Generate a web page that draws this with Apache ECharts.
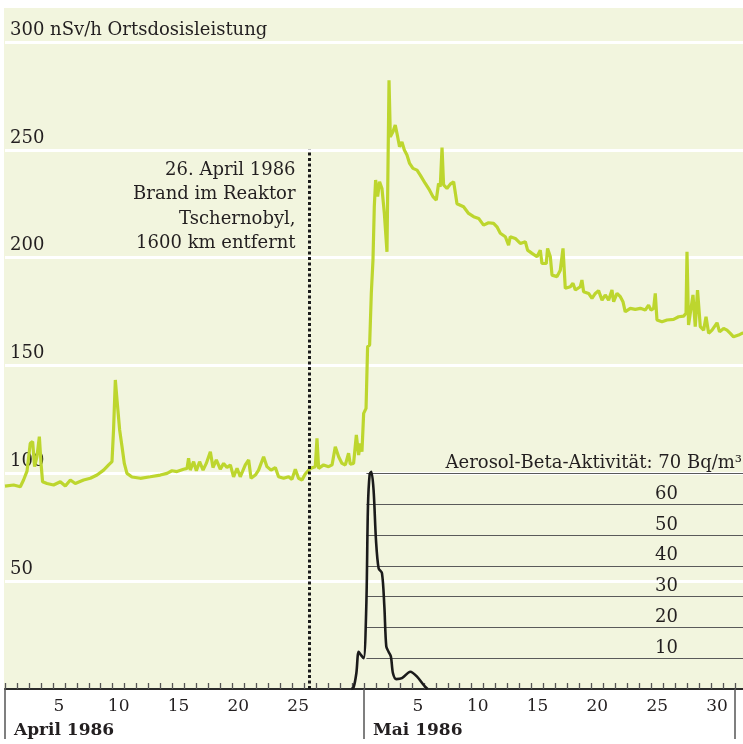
<!DOCTYPE html>
<html><head><meta charset="utf-8">
<script src="https://cdn.jsdelivr.net/npm/echarts@6/dist/echarts.min.js"></script>
<style>html,body{margin:0;padding:0;background:#fff}#c{width:743px;height:744px}</style>
</head><body><div id="c"></div>
<script>
// time in days since 1 April 1986 00:00, dose rate in nSv/h
const doseRate = [
 [0.00,94.1],[0.72,94.6],[1.28,93.8],[1.55,96.9],[1.84,101.0],[2.11,113.9],[2.31,114.7],[2.47,103.1],[2.67,107.7],[2.87,117.0],
 [3.01,104.6],[3.14,96.1],[3.51,95.3],[4.06,94.6],[4.62,96.1],[5.04,94.1],[5.46,96.9],[5.87,95.3],[6.57,96.9],[7.13,97.7],
 [7.69,99.2],[8.24,101.5],[8.66,103.9],[8.94,105.4],[9.07,120.1],[9.22,143.3],[9.36,134.0],[9.58,120.1],[9.78,112.3],[9.97,104.6],
 [10.19,100.0],[10.61,98.3],[11.31,97.7],[12.14,98.4],[12.98,99.2],[13.54,100.0],[13.95,101.2],[14.37,100.8],[14.92,101.9],[15.21,102.3],
 [15.34,107.0],[15.48,101.5],[15.76,105.4],[15.99,101.2],[16.26,105.4],[16.55,101.5],[16.82,104.6],[17.16,110.0],[17.38,102.7],[17.66,106.2],
 [17.99,101.9],[18.27,104.6],[18.55,102.7],[18.83,103.9],[19.10,98.4],[19.39,102.3],[19.66,98.4],[20.08,103.9],[20.36,106.2],[20.56,97.7],
 [20.92,99.2],[21.19,101.5],[21.61,107.7],[21.89,103.1],[22.23,101.5],[22.59,102.7],[22.86,98.4],[23.28,97.7],[23.70,98.4],[23.98,97.2],
 [24.26,101.9],[24.53,97.7],[24.82,96.9],[25.09,99.7],[25.51,102.3],[25.93,103.1],[26.07,116.2],[26.21,102.3],[26.62,103.9],[27.04,103.1],
 [27.33,103.9],[27.60,112.3],[27.88,107.7],[28.16,104.6],[28.44,103.9],[28.71,109.3],[28.85,104.3],[29.13,104.6],[29.36,117.8],[29.55,108.5],
 [29.69,113.9],[29.83,110.0],[29.97,127.8],[30.17,130.1],[30.30,158.7],[30.47,159.5],[30.61,183.4],[30.75,198.9],[30.86,223.6],[30.97,236.0],
 [31.14,228.3],[31.30,235.2],[31.50,232.1],[31.70,220.5],[31.92,202.7],[32.09,282.3],[32.20,256.1],[32.42,258.4],[32.61,261.5],[32.81,256.1],
 [32.97,251.4],[33.17,253.7],[33.37,249.9],[33.59,247.6],[33.81,243.7],[34.09,241.4],[34.43,240.6],[34.70,238.3],[35.12,234.4],[35.48,231.3],
 [35.76,228.3],[36.04,226.7],[36.23,234.4],[36.37,232.9],[36.52,251.1],[36.65,233.7],[36.93,232.1],[37.21,234.1],[37.49,235.2],[37.65,234.7],
 [37.77,225.0],[38.32,223.6],[38.74,220.5],[39.16,219.0],[39.58,218.2],[39.99,215.1],[40.41,216.2],[40.83,215.9],[41.11,214.3],[41.39,211.3],
 [41.81,209.7],[42.08,205.8],[42.22,209.7],[42.64,208.9],[43.06,206.6],[43.48,207.4],[43.67,203.5],[44.04,202.0],[44.46,200.4],[44.73,203.5],
 [44.87,197.3],[45.23,197.3],[45.34,204.3],[45.57,200.4],[45.71,191.9],[46.13,191.2],[46.40,194.2],[46.63,204.3],[46.82,185.8],[47.24,186.5],
 [47.46,188.1],[47.66,185.0],[48.07,186.5],[48.21,189.6],[48.35,184.2],[48.77,183.4],[49.05,181.1],[49.33,183.4],[49.60,184.7],[49.89,180.3],
 [50.16,182.7],[50.44,180.3],[50.72,185.0],[50.86,179.6],[51.14,183.4],[51.42,181.9],[51.64,179.6],[51.83,174.9],[52.25,176.5],[52.67,176.0],
 [53.09,176.5],[53.50,175.7],[53.78,178.0],[53.98,175.7],[54.20,176.5],[54.34,183.4],[54.48,171.1],[54.90,170.3],[55.32,171.1],[55.87,171.4],
 [56.29,172.6],[56.71,172.9],[56.91,174.2],[56.99,202.7],[57.12,168.8],[57.49,182.7],[57.68,168.0],[57.87,185.0],[58.10,168.0],[58.38,166.4],
 [58.58,172.6],[58.80,164.9],[59.08,166.4],[59.50,169.8],[59.71,165.6],[60.05,167.2],[60.33,166.4],[60.61,164.9],[60.88,163.3],[61.30,164.1],
 [61.58,164.9],[61.69,165.0]
];
// aerosol beta activity in Bq/m3
const aerosolBeta = [
 [28.94,0],[29.13,0.5],[29.36,5.1],[29.55,12.1],[29.75,11.0],[29.97,10.0],[30.19,26.7],[30.33,59.2],[30.47,69.6],[30.61,70.5],
 [30.80,64.6],[31.00,48.4],[31.22,39.2],[31.50,37.6],[31.70,26.8],[31.86,13.8],[32.05,12.1],[32.25,10.5],[32.42,5.1],[32.70,3.2],
 [33.17,3.5],[33.87,5.6],[34.43,4.0],[34.98,1.3],[35.31,0]
];
const doseTicks = [0, 50, 100, 150, 200, 250, 300];
const doseUnit = 'nSv/h Ortsdosisleistung';
const aerosolTicks = [10, 20, 30, 40, 50, 60, 70];
const aerosolPrefix = 'Aerosol-Beta-Aktivität: ';
const aerosolUnit = ' Bq/m³';
const monthNames = ['April 1986', 'Mai 1986'];
const monthStarts = [0, 30];
const periodEnd = 61;
const aprilDayLabels = [5, 10, 15, 20, 25];
const mayDayLabels = [5, 10, 15, 20, 25, 30];
const eventDay = 25.45;
const eventTop = 250;
const eventText = ['26. April 1986', 'Brand im Reaktor', 'Tschernobyl,', '1600 km entfernt'];

const FONT = 'DejaVu Serif';
const TXT = '#231f20';
const dayTicks = [];
for (let d = 0; d <= periodEnd; d++) dayTicks.push(d);
const dayLabelPos = aprilDayLabels.map(d => d - 0.5).concat(mayDayLabels.map(d => monthStarts[1] + d - 0.5));
const XMAX = 61.67;

const chart = echarts.init(document.getElementById('c'), null, {renderer: 'canvas'});
chart.setOption({
  animation: false,
  backgroundColor: '#ffffff',
  graphic: [{type: 'rect', z: -10, silent: true, shape: {x: 4, y: 8, width: 739, height: 682}, style: {fill: '#f2f5de'}}],
  grid: {left: 5, right: 0, top: 42, bottom: 55, containLabel: false, outerBoundsMode: 'none'},
  xAxis: [
    {type: 'value', min: 0, max: XMAX, position: 'bottom',
     axisLine: {show: true, lineStyle: {color: '#2b2b2b', width: 2}},
     axisTick: {show: true, inside: true, length: 6, customValues: dayTicks, lineStyle: {color: '#555', width: 1.3}},
     axisLabel: {show: true, customValues: dayLabelPos, margin: 9, fontFamily: FONT, fontSize: 17, color: TXT,
       formatter: v => String(Math.round(v < monthStarts[1] ? v + 0.5 : v - monthStarts[1] + 0.5))},
     splitLine: {show: false}},
    {type: 'value', min: 0, max: XMAX, position: 'bottom',
     axisLine: {show: false},
     axisTick: {show: true, inside: false, length: 50, customValues: monthStarts.concat([periodEnd]), lineStyle: {color: '#555', width: 1.5}},
     axisLabel: {show: true, customValues: monthStarts, margin: 33, align: 'left', padding: [0, 0, 0, 9],
       fontFamily: FONT, fontSize: 17, fontWeight: 'bold', color: TXT,
       formatter: v => monthNames[monthStarts.indexOf(Math.round(v))]},
     splitLine: {show: false}}
  ],
  yAxis: [
    {type: 'value', min: 0, max: 300, interval: 50,
     axisLine: {show: false}, axisTick: {show: false},
     splitLine: {show: true, lineStyle: {color: '#ffffff', width: 3}},
     axisLabel: {inside: true, align: 'left', verticalAlign: 'bottom', margin: 5, padding: [0, 0, 2, 0], lineHeight: 20,
       fontFamily: FONT, fontSize: 18, color: TXT,
       formatter: v => v === 0 ? '' : (v === doseTicks[doseTicks.length - 1] ? v + ' ' + doseUnit : String(v))}},
    {type: 'value', min: 0, max: 210, show: false, splitLine: {show: false}}
  ],
  series: [
    {type: 'line', name: 'Aerosol', xAxisIndex: 0, yAxisIndex: 1, data: aerosolBeta, smooth: 0.3,
     showSymbol: false, z: 2, lineStyle: {color: '#1b1b1b', width: 2.6},
     markLine: {silent: true, symbol: 'none', z: 1,
       lineStyle: {color: '#5a5a5a', width: 1.2, type: 'solid'},
       data: aerosolTicks.map(t => [
         {coord: [monthStarts[1] + 0.2, t],
          label: {show: true, position: 'insideEndTop', distance: 1,
            padding: t === aerosolTicks[aerosolTicks.length - 1] ? [0, 0, 0, 0] : [0, 64, 0, 0],
            fontFamily: FONT, fontSize: 18, color: TXT,
            formatter: t === aerosolTicks[aerosolTicks.length - 1] ? aerosolPrefix + t + aerosolUnit : String(t)}},
         {coord: [XMAX, t]}
       ])}},
    {type: 'line', name: 'Dose', xAxisIndex: 0, yAxisIndex: 0, data: doseRate,
     showSymbol: false, z: 3, lineStyle: {color: '#bdd62e', width: 3.2}, itemStyle: {color: '#bdd62e'},
     markLine: {silent: true, symbol: 'none', z: 4,
       lineStyle: {color: '#1b1b1b', width: 3, type: [3, 2.5], cap: 'butt'},
       label: {show: false},
       data: [[{coord: [eventDay, 0]}, {coord: [eventDay, eventTop]}]]},
     markPoint: {silent: true, symbol: 'circle', symbolSize: 0,
       data: [{coord: [eventDay, eventTop]}],
       label: {show: true, position: [-14, 8], align: 'right', verticalAlign: 'top', lineHeight: 24.5,
         fontFamily: FONT, fontSize: 18, color: TXT, formatter: eventText.join('\n')}}}
  ]
});
</script></body></html>
